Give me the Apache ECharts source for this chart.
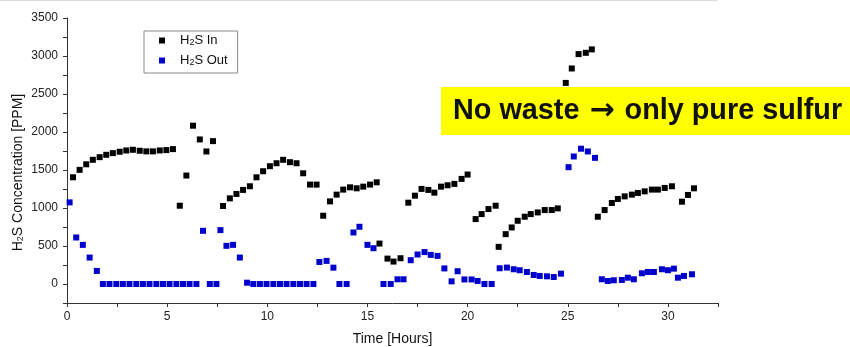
<!DOCTYPE html>
<html>
<head>
<meta charset="utf-8">
<script src="https://cdn.jsdelivr.net/npm/echarts@6.0.0/dist/echarts.min.js"></script>
<style>
  html, body { margin: 0; padding: 0; background: #fff; }
  #chart { width: 850px; height: 347px; }
</style>
</head>
<body>
<div id="chart"></div>
<script>
// H2S In (black)
var inTime = [0.30, 0.63, 0.96, 1.29, 1.63, 1.96, 2.29, 2.63, 2.96, 3.29, 3.63, 3.96, 4.29, 4.63, 4.96, 5.29,
  5.63, 5.96, 6.29, 6.63, 6.96, 7.29,
  7.79, 8.13, 8.46, 8.79, 9.13, 9.46, 9.79, 10.13, 10.46, 10.79, 11.13, 11.46, 11.79, 12.13, 12.46,
  12.79, 13.13, 13.46, 13.79, 14.13, 14.46, 14.79, 15.13, 15.46,
  15.60, 16.00, 16.30, 16.65,
  17.04, 17.37, 17.70, 18.04, 18.34, 18.67, 19.00, 19.34, 19.70, 20.00,
  20.40, 20.70, 21.04, 21.40,
  21.55, 21.90, 22.20, 22.50, 22.85, 23.15, 23.50, 23.85, 24.20, 24.50,
  24.90, 25.20, 25.54, 25.90, 26.20,
  26.50, 26.84, 27.20, 27.50, 27.84, 28.20, 28.50, 28.84, 29.20, 29.50, 29.84, 30.20,
  30.70, 31.00, 31.30];
var inVal = [1404, 1502, 1575, 1634, 1669, 1700, 1722, 1740, 1757, 1766, 1753, 1745, 1745, 1757, 1762, 1775,
  1030, 1427, 2083, 1902, 1744, 1880,
  1026, 1127, 1185, 1238, 1286, 1404, 1484, 1550, 1589, 1634, 1603, 1589, 1457, 1308, 1308,
  898, 1087, 1176, 1242, 1272, 1259, 1281, 1308, 1338,
  532, 334, 295, 339,
  1070, 1162, 1251, 1238, 1202, 1281, 1299, 1317, 1383, 1440,
  854, 920, 986, 1030,
  489, 656, 744, 832, 885, 920, 942, 973, 973, 995,
  2646, 2836, 3025, 3042, 3087,
  885, 973, 1066, 1119, 1153, 1176, 1198, 1219, 1242, 1242, 1264, 1286,
  1083, 1172, 1259];

// H2S Out (blue)
var outTime = [0.13, 0.46, 0.79, 1.13, 1.49,
  1.79, 2.12, 2.46, 2.79, 3.12, 3.46, 3.79, 4.12, 4.46, 4.79, 5.12, 5.46, 5.79, 6.12, 6.46,
  6.79, 7.13, 7.46, 7.66, 7.96, 8.29, 8.63, 8.99,
  9.30, 9.63, 9.96, 10.30, 10.63, 10.96, 11.30, 11.63, 11.96, 12.30,
  12.60, 12.96, 13.30, 13.60, 13.96, 14.30, 14.60, 15.00, 15.30, 15.80, 16.16, 16.50, 16.80,
  17.16, 17.50, 17.85, 18.16, 18.50, 18.84, 19.20, 19.50, 19.84, 20.20, 20.50, 20.84, 21.20,
  21.60, 21.96, 22.30, 22.60, 22.96, 23.30, 23.60, 23.96, 24.30, 24.66,
  25.04, 25.30, 25.66, 26.00, 26.36,
  26.70, 27.00, 27.30, 27.70, 28.00, 28.30, 28.70, 29.00, 29.30, 29.70, 30.00, 30.30,
  30.50, 30.80, 31.20];
var outVal = [1074, 612, 515, 348, 172,
  0, 0, 0, 0, 0, 0, 0, 0, 0, 0, 0, 0, 0, 0, 0,
  700, 0, 0, 709, 502, 515, 348, 17,
  0, 0, 0, 0, 0, 0, 0, 0, 0, 0,
  290, 304, 215, 0, 0, 678, 753, 515, 471, 0, 0, 62, 62,
  313, 388, 420, 383, 370, 205, 35, 168, 60, 60, 40, 0, 0,
  207, 216, 194, 181, 158, 119, 106, 101, 92, 136,
  1537, 1678, 1780, 1744, 1660,
  62, 40, 49, 53, 83, 62, 141, 158, 158, 194, 181, 202,
  83, 106, 128];

var xTickStep = 2.5;
var yTickStep = 250;

function pairs(xs, ys) {
  var out = [];
  for (var i = 0; i < xs.length; i++) {
    out.push([xs[i], ys[i]]);
  }
  return out;
}

var font = 'Liberation Sans, Arial, sans-serif';
var chart = echarts.init(document.getElementById('chart'));

var option = {
  backgroundColor: '#ffffff',
  animation: false,
  grid: {
    left: 67, right: 132, top: 18, bottom: 44,
    containLabel: false,
    outerBoundsMode: 'none'
  },
  legend: {
    orient: 'vertical',
    left: 144,
    top: 31,
    padding: [3, 10, 6, 15],
    itemGap: 7,
    itemWidth: 6,
    itemHeight: 6,
    borderColor: '#8a8a8a',
    borderWidth: 1,
    backgroundColor: '#ffffff',
    data: [
      { name: 'H2S In', icon: 'rect' },
      { name: 'H2S Out', icon: 'rect' }
    ],
    formatter: function (name) {
      return '{g| }{n|H}{s|2}{n|' + name.slice(2) + '}';
    },
    textStyle: {
      color: '#111',
      fontFamily: font,
      fontSize: 13,
      rich: {
        g: { width: 10, fontSize: 13 },
        n: { fontFamily: font, fontSize: 13, color: '#111' },
        s: { fontFamily: font, fontSize: 9, color: '#111', verticalAlign: 'bottom' }
      }
    }
  },
  xAxis: {
    type: 'value',
    min: 0,
    max: 32.5,
    interval: xTickStep,
    name: 'Time [Hours]',
    nameLocation: 'middle',
    nameGap: 29,
    nameMoveOverlap: false,
    nameTextStyle: { fontFamily: font, fontSize: 14, color: '#111' },
    axisLine: { onZero: false, lineStyle: { color: '#333', width: 1 } },
    axisTick: { inside: false, length: 4, lineStyle: { color: '#333' } },
    axisLabel: {
      margin: 8,
      fontFamily: font,
      fontSize: 12,
      color: '#222',
      formatter: function (v) {
        return Math.abs(v % 5) < 1e-6 ? String(v) : '';
      }
    },
    splitLine: { show: false }
  },
  yAxis: {
    type: 'value',
    min: -250,
    max: 3500,
    interval: yTickStep,
    name: '{n|H}{s|2}{n|S Concentration [PPM]}',
    nameLocation: 'middle',
    nameGap: 42,
    nameRotate: 90,
    nameMoveOverlap: false,
    nameTextStyle: {
      fontFamily: font,
      fontSize: 14,
      color: '#111',
      padding: [0, 24, 0, 0],
      rich: {
        n: { fontFamily: font, fontSize: 14, color: '#111' },
        s: { fontFamily: font, fontSize: 9, color: '#111', verticalAlign: 'bottom' }
      }
    },
    axisLine: { show: true, lineStyle: { color: '#333', width: 1 } },
    axisTick: { show: true, inside: false, length: 4, lineStyle: { color: '#333' } },
    axisLabel: {
      margin: 9,
      fontFamily: font,
      fontSize: 12,
      color: '#222',
      formatter: function (v) {
        return (v >= 0 && v % 500 === 0) ? String(v) : '';
      }
    },
    splitLine: { show: false }
  },
  series: [
    {
      name: 'H2S In',
      type: 'scatter',
      symbol: 'rect',
      symbolSize: 6,
      itemStyle: { color: '#000000', opacity: 1 },
      data: pairs(inTime, inVal)
    },
    {
      name: 'H2S Out',
      type: 'scatter',
      symbol: 'rect',
      symbolSize: 6,
      itemStyle: { color: '#0000cc', opacity: 1 },
      data: pairs(outTime, outVal)
    }
  ],
  graphic: [
    {
      type: 'line',
      shape: { x1: 0, y1: 0.5, x2: 718, y2: 0.5 },
      style: { stroke: '#dcdcdc', lineWidth: 1 },
      silent: true
    },
    {
      type: 'rect',
      shape: { x: 441, y: 87, width: 409, height: 48 },
      style: { fill: '#ffff00' },
      silent: true
    },
    {
      type: 'text',
      x: 453,
      y: 111,
      style: {
        text: '{t|No waste }{a|\u2192}{t| only pure sulfur}',
        verticalAlign: 'middle',
        rich: {
          t: { fill: '#111', fontFamily: font, fontWeight: 'bold', fontSize: 28.8 },
          a: { fill: '#111', fontFamily: 'DejaVu Sans', fontWeight: 'bold', fontSize: 30, padding: [0, 2, 0, 2] }
        }
      },
      silent: true
    }
  ]
};

chart.setOption(option);
</script>
</body>
</html>
